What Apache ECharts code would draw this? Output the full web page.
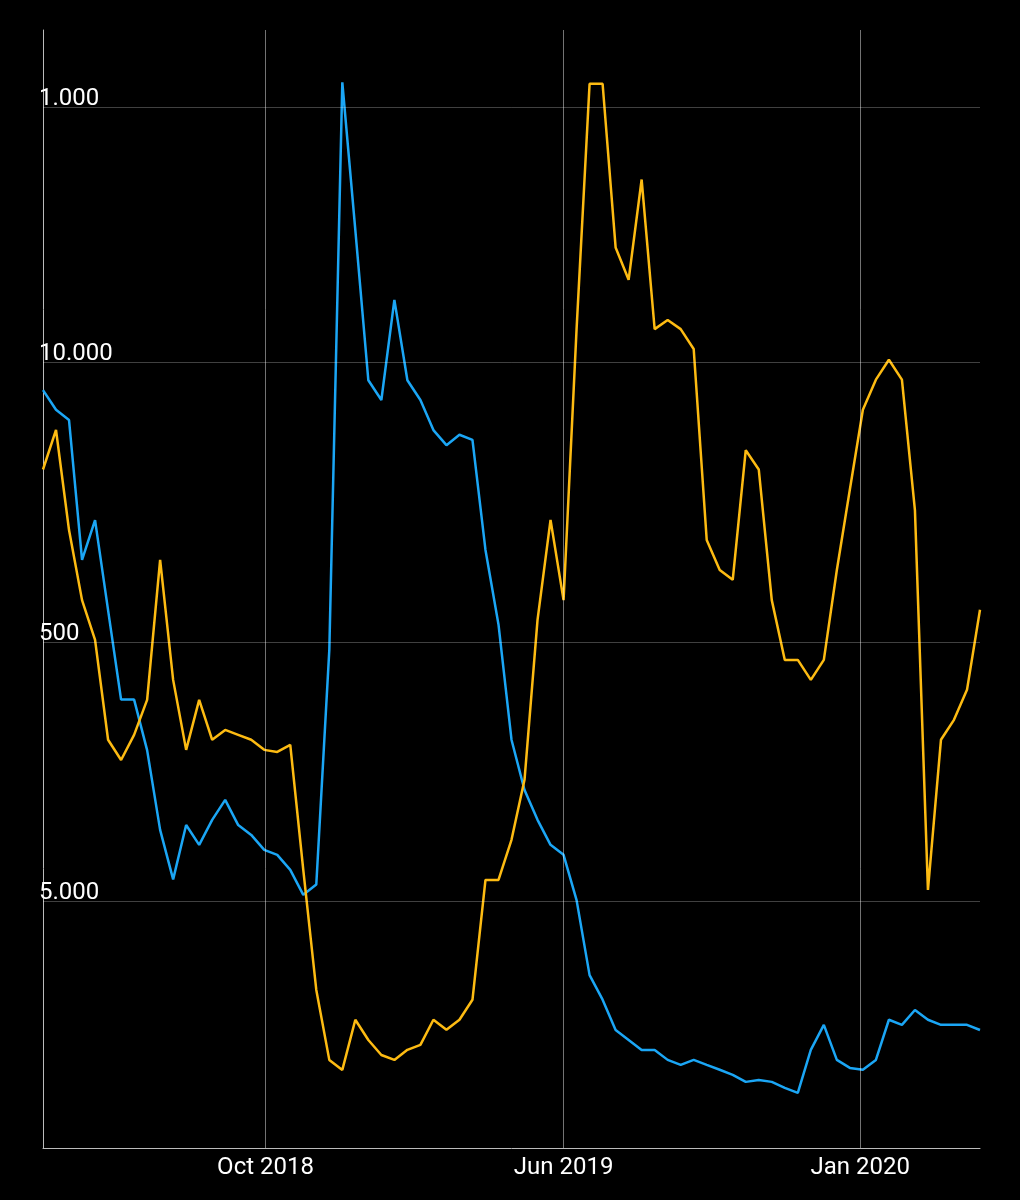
<!DOCTYPE html>
<html>
<head>
<meta charset="utf-8">
<script src="https://cdn.jsdelivr.net/npm/echarts@6/dist/echarts.min.js"></script>
<style>html,body{margin:0;background:#000}</style>
</head>
<body>
<div id="chart" style="width:1020px;height:1200px"></div>
<script>
// one point every 10 days from 2018-04-13
var startDate = '2018-04-13'
var stepDays = 10
var blueValues = [12900,15400,16900,59700,41700,94000,211000,211000,333000,684000,1070000,655000,783000,625000,522000,655000,716000,820000,857000,982000,1230000,1120000,135000,800,3040,11800,14100,5710,11800,14100,18500,21200,19300,20200,54600,107000,303000,477000,625000,783000,857000,1290000,2540000,3170000,4170000,4560000,4990000,4990000,5460000,5710000,5460000,5710000,5970000,6250000,6660000,6550000,6660000,7030000,7360000,4990000,3980000,5460000,5870000,5970000,5460000,3800000,3980000,3480000,3800000,3980000,3980000,3980000,4170000]
var yellowValues = [108,76,185,345,491,1194,1429,1143,837,241,701,1306,837,1194,1094,1143,1194,1306,1330,1250,3795,11040,20560,22480,14390,17220,19680,20560,18800,17980,14390,15740,14390,12050,4150,4150,2905,1705,411,169,345,31,3.5,3.5,15,20,8.2,31,28.6,31,37,202,264,288,91,108,345,587,587,701,587,264,129,63.5,48.6,40.7,48.6,155,4540,1194,1000,766,376]
var blueTicks = [1000, 10000]
var yellowTicks = [500, 5000]
var monthMarks = ['2018-10-01', '2019-05-18', '2020-01-01']
var monthLabels = ['Oct 2018', 'Jun 2019', 'Jan 2020']

var dates = []
var t0 = new Date(startDate + 'T00:00:00Z').getTime()
for (var i = 0; i < blueValues.length; i++) {
    dates.push(t0 + i * stepDays * 86400000)
}
var fmt = function (v) { return String(v).replace(/\B(?=(\d{3})+(?!\d))/g, '.') }
var gridLine = {color: 'rgba(255,255,255,0.25)', width: 1, type: 'solid'}
var tickLabel = {color: '#fff', fontSize: 24, fontFamily: 'Roboto', position: 'insideStartTop', distance: [-4, -4]}

var myChart = echarts.init(document.getElementById('chart'))
var option = {
    backgroundColor: '#000',
    animation: false,
    grid: {left: 43, right: 40, top: 30, bottom: 52},
    xAxis: {
        type: 'time',
        min: t0,
        max: t0 + 720 * 86400000,
        axisLine: {lineStyle: {color: '#bbb'}},
        axisTick: {show: false},
        axisLabel: {show: false},
        splitLine: {show: false}
    },
    yAxis: [
        {type: 'log', inverse: true, min: 499, max: 12100000,
         axisLine: {show: true, lineStyle: {color: '#bbb'}},
         axisLabel: {show: false}, axisTick: {show: false}, splitLine: {show: false}},
        {type: 'log', inverse: true, min: 2.17, max: 45000, position: 'left',
         axisLine: {show: false}, axisLabel: {show: false}, axisTick: {show: false}, splitLine: {show: false}}
    ],
    series: [
        {
            type: 'line', yAxisIndex: 0, showSymbol: false,
            lineStyle: {color: '#1ba6f5', width: 2.5},
            data: dates.map(function (d, i) { return [d, blueValues[i]] }),
            markLine: {
                silent: true, symbol: 'none', lineStyle: gridLine,
                data: blueTicks.map(function (v) {
                    return {yAxis: v, label: Object.assign({formatter: fmt(v)}, tickLabel)}
                }).concat(monthMarks.map(function (d, i) {
                    return {xAxis: new Date(d + 'T00:00:00Z').getTime(),
                        lineStyle: {color: 'rgba(255,255,255,0.45)', width: 1, type: 'solid'},
                        label: {formatter: monthLabels[i], position: 'end', distance: 8,
                            color: '#fff', fontSize: 24, fontFamily: 'Roboto'}}
                }))
            }
        },
        {
            type: 'line', yAxisIndex: 1, showSymbol: false,
            lineStyle: {color: '#fdbb12', width: 2.5},
            data: dates.map(function (d, i) { return [d, yellowValues[i]] }),
            markLine: {
                silent: true, symbol: 'none', lineStyle: gridLine,
                data: yellowTicks.map(function (v) {
                    return {yAxis: v, label: Object.assign({formatter: fmt(v)}, tickLabel)}
                })
            }
        }
    ]
}
myChart.setOption(option, true)
</script>
</body>
</html>
